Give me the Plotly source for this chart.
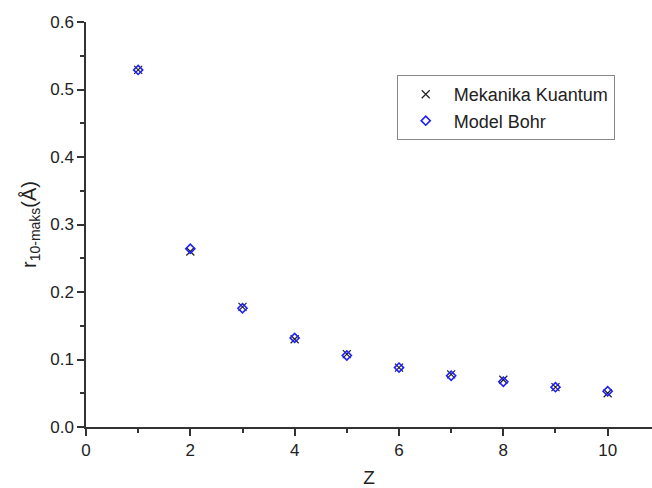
import plotly.graph_objects as go

Z = [1, 2, 3, 4, 5, 6, 7, 8, 9, 10]
r_kuantum = [0.529, 0.260, 0.178, 0.130, 0.108, 0.088, 0.078, 0.070, 0.059, 0.050]
r_bohr = [0.529, 0.264, 0.176, 0.132, 0.106, 0.088, 0.076, 0.067, 0.059, 0.053]

x_ticks = [0, 2, 4, 6, 8, 10]
y_ticks = [0.0, 0.1, 0.2, 0.3, 0.4, 0.5, 0.6]

FONT = "Liberation Sans, Arial, sans-serif"

fig = go.Figure()
fig.add_trace(go.Scatter(
    x=Z, y=r_kuantum, mode="markers", name="Mekanika Kuantum",
    marker=dict(symbol="x-thin-open", size=8, color="#222222",
                line=dict(width=1.2, color="#222222")),
))
fig.add_trace(go.Scatter(
    x=Z, y=r_bohr, mode="markers", name="Model Bohr",
    marker=dict(symbol="diamond-open", size=7, color="#2020ff",
                line=dict(width=1.6, color="#2020ff")),
))

axis_common = dict(
    showline=True, linecolor="#333333", linewidth=1.5,
    ticks="outside", ticklen=7, tickwidth=1.5, tickcolor="#333333",
    showgrid=False, zeroline=False,
    tickfont=dict(family=FONT, size=17, color="#222222"),
    minor=dict(ticks="outside", ticklen=4, tickwidth=1.5, tickcolor="#333333"),
)

fig.update_xaxes(
    range=[0, 10.85], tickvals=x_ticks, ticktext=[str(v) for v in x_ticks],
    title=dict(text="Z", font=dict(family=FONT, size=19, color="#222222"), standoff=14),
    minor_dtick=1, **axis_common,
)
fig.update_yaxes(
    range=[0, 0.6], tickvals=y_ticks, ticktext=[f"{v:.1f}" for v in y_ticks],
    title=dict(text="r<sub>10-maks</sub>(Å)", font=dict(family=FONT, size=20, color="#222222"), standoff=8),
    minor_dtick=0.05, **axis_common,
)

fig.update_layout(
    width=652, height=488,
    margin=dict(l=86, r=0, t=22, b=61),
    paper_bgcolor="white", plot_bgcolor="white",
    showlegend=True,
    legend=dict(
        x=0.549, y=0.869, xanchor="left", yanchor="top",
        bgcolor="white", bordercolor="#888888", borderwidth=1,
        font=dict(family=FONT, size=18, color="#222222"),
        itemwidth=46, tracegroupgap=0,
    ),
)

fig.write_html("out.html")
